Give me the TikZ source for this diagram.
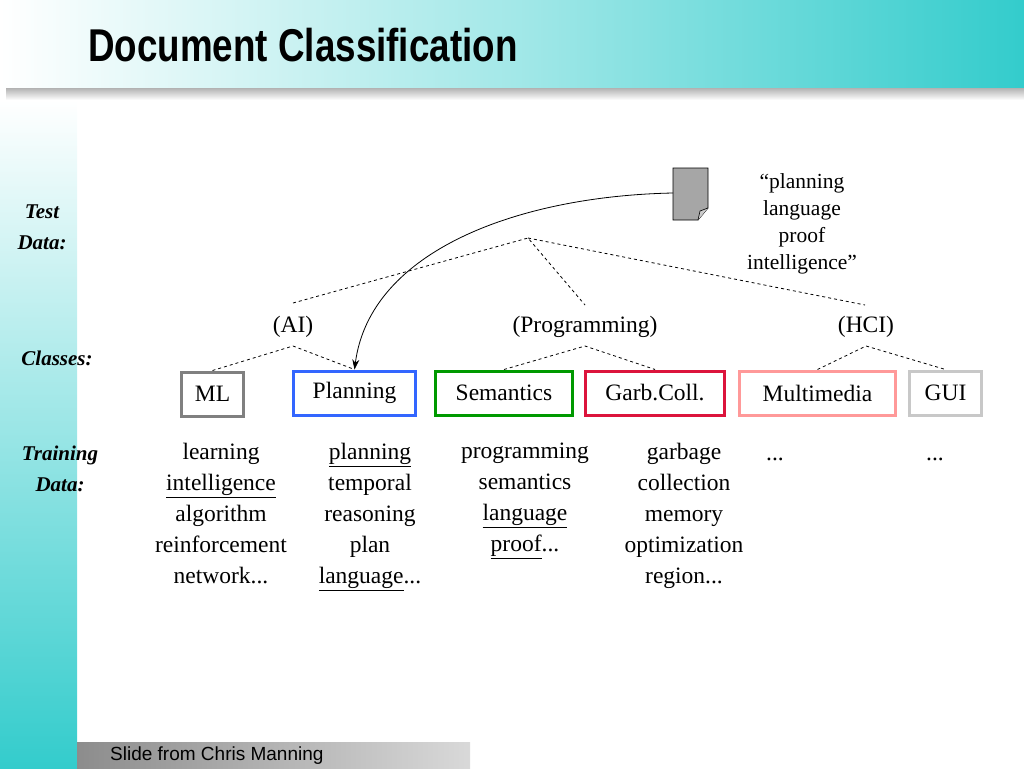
\documentclass[tikz,border=0pt]{standalone}
\usepackage{fontspec}
\setmainfont{Liberation Serif}
\newfontfamily\titlefont{Liberation Sans}
\usepackage{graphicx}
\usetikzlibrary{arrows.meta}
\definecolor{teal1}{RGB}{51,204,204}
\definecolor{mblue}{RGB}{51,102,255}
\definecolor{mgreen}{RGB}{0,153,0}
\definecolor{mred}{RGB}{220,20,60}
\definecolor{mpink}{RGB}{255,153,153}
\definecolor{mgrey}{RGB}{128,128,128}
\definecolor{lgrey}{RGB}{200,200,200}
\tikzset{
 txt/.style={font=\fontsize{23.5}{31}\selectfont,inner sep=0pt,align=center},
 lbl/.style={font=\fontsize{21}{31}\selectfont\bfseries\itshape,inner sep=0pt,align=center},
 cls/.style={draw=#1,line width=3pt,font=\fontsize{23.5}{27}\selectfont,minimum height=44pt,inner sep=0pt},
 tree/.style={dashed,line width=0.8pt},
}
\begin{document}
\begin{tikzpicture}[x=1pt,y=-1pt]
\useasboundingbox (0,0) rectangle (1024,768);
% header
\shade[top color=black!35,bottom color=white] (6,86) rectangle (1024,100);
\shade[left color=white,right color=teal1,middle color=teal1!45] (0,0) rectangle (1024,87);
\node[anchor=west,inner sep=0pt] (title) at (88,45) {\titlefont\bfseries\fontsize{46}{50}\selectfont\scalebox{0.8}[1]{Document Classification}};
% left stripe
\shade[top color=white,bottom color=teal1] (0,100) rectangle (77,768);
% footer
\shade[left color=black!45,right color=black!15] (77,742) rectangle (470,768);
\node[anchor=west,inner sep=0pt] (foot) at (110,756) {\titlefont\fontsize{19}{20}\selectfont Slide from Chris Manning};
% left labels
\node[lbl] (test) at (42,227) {Test\\Data:};
\node[lbl] (classes) at (57,358) {Classes:};
\node[lbl] (train) at (60,469) {Training\\Data:};
% document icon
\draw[fill=black!35,line width=0.8pt] (673,168) -- (708,168) -- (708,208) -- (698,220) -- (673,220) -- cycle;
\draw[fill=black!20,line width=0.6pt] (708,208) -- (700,211) -- (698,220);
\coordinate (docl) at (673,193);
\node[txt,font=\fontsize{21.5}{27}\selectfont] (query) at (802,224) {``planning\\language\\proof\\intelligence''};
% tree
\coordinate (root) at (528,238);
\coordinate (ai) at (293,303);
\coordinate (pr) at (585,305);
\coordinate (hc) at (865,305);
\draw[tree] (ai) -- (root) -- (pr);
\draw[tree] (root) -- (hc);
\node[txt] (AI) at (293,327) {(AI)};
\node[txt] (PR) at (585,327) {(Programming)};
\node[txt] (HC) at (866,327) {(HCI)};
% boxes
\node[cls=mgrey,minimum width=62pt] (ml) at (212.5,394) {ML};
\node[cls=mblue,minimum width=122pt] (plan) at (354.5,393) {Planning};
\node[cls=mgreen,minimum width=137pt] (sem) at (504,393) {Semantics};
\node[cls=mred,minimum width=139pt] (gc) at (655,393) {Garb.Coll.};
\node[cls=mpink,minimum width=156pt] (mm) at (817.5,393) {Multimedia};
\node[cls=lgrey,minimum width=72pt] (gui) at (945.5,393) {GUI};
\coordinate (a1) at (293,346); \coordinate (p1) at (585,346); \coordinate (h1) at (866,346);
\draw[tree] (ml.north) -- (a1) -- (plan.north);
\draw[tree] (sem.north) -- (p1) -- (gc.north);
\draw[tree] (mm.north) -- (h1) -- (gui.north);
% arrow
\draw[-{Stealth[length=10pt,width=7pt]},line width=0.8pt] (docl) .. controls (520,196) and (370,250) .. (plan.north);
% training data
\node[txt,anchor=north] (t1) at (221,443) {learning\\\underline{intelligence}\\algorithm\\reinforcement\\network...};
\node[txt,anchor=north] (t2) at (370,443) {\underline{planning}\\temporal\\reasoning\\plan\\\underline{language}...};
\node[txt,anchor=north] (t3) at (525,443) {programming\\semantics\\\underline{language}\\\underline{proof}...};
\node[txt,anchor=north] (t4) at (684,443) {garbage\\collection\\memory\\optimization\\region...};
\node[txt] (d1) at (775,459) {...};
\node[txt] (d2) at (935,459) {...};
\end{tikzpicture}
\end{document}
